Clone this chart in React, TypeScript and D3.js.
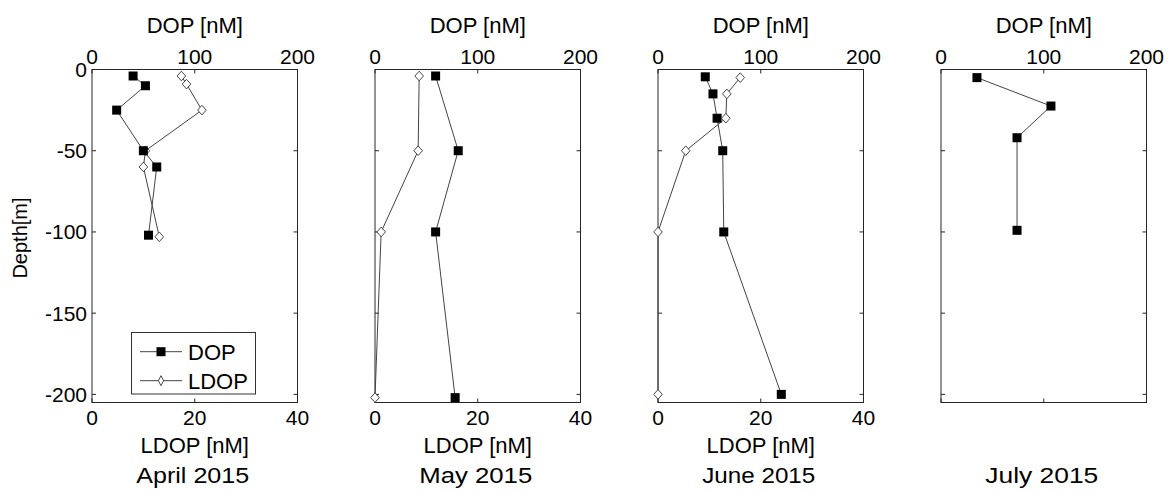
import React from "react";
import * as d3 from "d3";

// ---- data ----
const months = ["April 2015", "May 2015", "June 2015", "July 2015"];

const aprDopDepth = [-4, -10, -25, -50, -60, -102];
const aprDop = [40, 52, 24, 50, 63, 55];
const aprLdopDepth = [-4, -9, -25, -50, -60, -103];
const aprLdop = [17.4, 18.4, 21.4, 10.4, 10.0, 13.1];

const mayDepth = [-4, -50, -100, -202];
const mayDop = [59, 81, 59, 78];
const mayLdop = [8.6, 8.4, 1.2, 0];

const junDopDepth = [-4.5, -15, -30, -50, -100, -200];
const junDop = [46, 53.5, 57.5, 63, 64, 120];
const junLdopDepth = [-5, -15, -30, -50, -100, -200];
const junLdop = [16, 13.4, 13.2, 5.4, 0, 0];

const julDepth = [-5, -22.5, -42, -99];
const julDop = [35, 107, 74, 74];

const depthTicks = [0, -50, -100, -150, -200];
const dopTicks = [0, 100, 200];
const ldopTicks = [0, 20, 40];

type Pt = { x: number; d: number };
const zip = (xs: number[], ds: number[]): Pt[] => xs.map((x, i) => ({ x, d: ds[i] }));

const panels = [
  { month: months[0], dop: zip(aprDop, aprDopDepth), ldop: zip(aprLdop, aprLdopDepth), showY: true, showLdop: true, legend: true },
  { month: months[1], dop: zip(mayDop, mayDepth), ldop: zip(mayLdop, mayDepth), showY: false, showLdop: true, legend: false },
  { month: months[2], dop: zip(junDop, junDopDepth), ldop: zip(junLdop, junLdopDepth), showY: false, showLdop: true, legend: false },
  { month: months[3], dop: zip(julDop, julDepth), ldop: [] as Pt[], showY: false, showLdop: false, legend: false },
];

// ---- layout ----
const W = 1168, H = 491;
const lefts = [92, 375, 658, 941];
const PW = 205.5;
const TOP = 69.5, BOT = 402.5;
const FONT = "'Liberation Sans', Arial, Helvetica, sans-serif";
const FRAME = "#262626";
const LINE = "#444";
const TL = 4;

function Panel({ p, left }: { p: (typeof panels)[number]; left: number }) {
  const y = d3.scaleLinear().domain([0, -205]).range([TOP, BOT]);
  const xDop = d3.scaleLinear().domain([0, 200]).range([left, left + PW]);
  const xL = d3.scaleLinear().domain([0, 40]).range([left, left + PW]);
  const lineDop = d3.line<Pt>().x((d) => xDop(d.x)).y((d) => y(d.d));
  const lineL = d3.line<Pt>().x((d) => xL(d.x)).y((d) => y(d.d));
  const cx = left + PW / 2;
  const right = left + PW;
  const sq = 9;
  const diamond = (px: number, py: number, w = 4.3, h = 4.8) =>
    `M${px},${py - h}L${px + w},${py}L${px},${py + h}L${px - w},${py}Z`;
  const bottomTicks = p.showLdop ? ldopTicks.map((t) => xL(t)) : dopTicks.map((t) => xDop(t));
  return (
    <g>
      {/* frame */}
      <rect x={left} y={TOP} width={PW} height={BOT - TOP} fill="white" stroke={FRAME} strokeWidth={1} />
      {/* y ticks */}
      {depthTicks.map((t) => (
        <g key={"yt" + t}>
          <line x1={left} x2={left + TL} y1={y(t)} y2={y(t)} stroke={FRAME} />
          <line x1={right} x2={right - TL} y1={y(t)} y2={y(t)} stroke={FRAME} />
          {p.showY && (
            <text x={left - 5} y={y(t)} dy="0.36em" textAnchor="end" fontSize={21} fontFamily={FONT} fill="#000">
              {t}
            </text>
          )}
        </g>
      ))}
      {/* top ticks */}
      {dopTicks.map((t) => (
        <g key={"xt" + t}>
          <line x1={xDop(t)} x2={xDop(t)} y1={TOP} y2={TOP + TL} stroke={FRAME} />
          <text x={xDop(t)} y={64} textAnchor="middle" fontSize={21} fontFamily={FONT} fill="#000">
            {t}
          </text>
        </g>
      ))}
      <text x={cx} y={32.7} textAnchor="middle" fontSize={22} fontFamily={FONT} fill="#000">
        DOP [nM]
      </text>
      {/* bottom ticks */}
      {bottomTicks.map((bx, i) => (
        <line key={"bt" + i} x1={bx} x2={bx} y1={BOT} y2={BOT - TL} stroke={FRAME} />
      ))}
      {p.showLdop && (
        <>
          {ldopTicks.map((t) => (
            <text key={"lt" + t} x={xL(t)} y={425} textAnchor="middle" fontSize={21} fontFamily={FONT} fill="#000">
              {t}
            </text>
          ))}
          <text x={cx} y={453} textAnchor="middle" fontSize={22} fontFamily={FONT} fill="#000">
            LDOP [nM]
          </text>
        </>
      )}
      <text x={cx - 2} y={482.7} textAnchor="middle" fontSize={22} fontFamily={FONT} fill="#000" textLength={113} lengthAdjust="spacingAndGlyphs">
        {p.month}
      </text>
      {/* LDOP series */}
      {p.ldop.length > 0 && (
        <g>
          <path d={lineL(p.ldop) || ""} fill="none" stroke={LINE} strokeWidth={1} />
          {p.ldop.map((d, i) => (
            <path key={"ld" + i} d={diamond(xL(d.x), y(d.d))} fill="white" stroke="#333" strokeWidth={0.9} />
          ))}
        </g>
      )}
      {/* DOP series */}
      <g>
        <path d={lineDop(p.dop) || ""} fill="none" stroke={LINE} strokeWidth={1} />
        {p.dop.map((d, i) => (
          <rect key={"dp" + i} x={xDop(d.x) - sq / 2} y={y(d.d) - sq / 2} width={sq} height={sq} fill="#000" />
        ))}
      </g>
      {p.legend && (
        <g>
          <rect x={131.5} y={332.5} width={124} height={61.5} fill="white" stroke="#333" strokeWidth={1} />
          <line x1={140} x2={182} y1={351.7} y2={351.7} stroke={LINE} />
          <rect x={161 - sq / 2} y={351.7 - sq / 2} width={sq} height={sq} fill="#000" />
          <text x={188} y={351.7} dy="0.36em" fontSize={22} fontFamily={FONT} fill="#000">
            DOP
          </text>
          <line x1={140} x2={182} y1={380.7} y2={380.7} stroke={LINE} />
          <path d={diamond(161, 380.7, 2.6, 5)} fill="white" stroke="#333" strokeWidth={0.9} />
          <text x={188} y={380.7} dy="0.36em" fontSize={22} fontFamily={FONT} fill="#000">
            LDOP
          </text>
        </g>
      )}
    </g>
  );
}

export default function App() {
  return (
    <svg
      width={W}
      height={H}
      viewBox={`0 0 ${W} ${H}`}
      style={{ position: "absolute", left: 0, top: 0, background: "white" }}
    >
      <rect x={0} y={0} width={W} height={H} fill="white" />
      {panels.map((p, i) => (
        <Panel key={p.month} p={p} left={lefts[i]} />
      ))}
      <text
        transform={`translate(27,238) rotate(-90)`}
        textAnchor="middle"
        fontSize={20}
        fontFamily={FONT}
        fill="#000"
      >
        Depth[m]
      </text>
    </svg>
  );
}
